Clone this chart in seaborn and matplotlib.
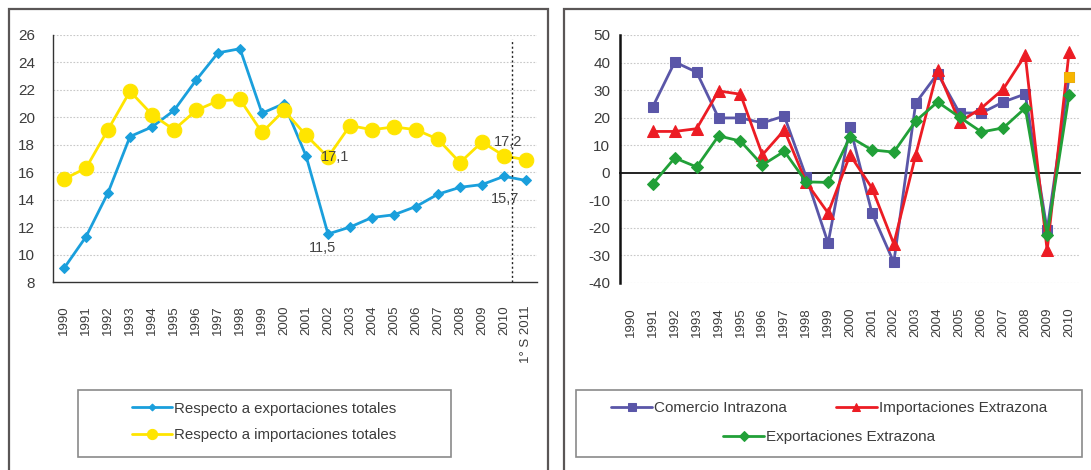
import numpy as np
import pandas as pd
import matplotlib
matplotlib.use("Agg")
import matplotlib.pyplot as plt
from matplotlib.patches import Rectangle
import seaborn as sns

# ---- data: share of intra-zone trade (left) ----
periods_left = [str(y) for y in range(1990, 2011)] + ["1° S 2011"]
export_share = [9.0, 11.3, 14.5, 18.6, 19.3, 20.5, 22.7, 24.7, 25.0, 20.3, 21.0,
                17.2, 11.5, 12.0, 12.7, 12.9, 13.5, 14.4, 14.9, 15.1, 15.7, 15.4]
import_share = [15.5, 16.3, 19.1, 21.9, 20.2, 19.1, 20.5, 21.2, 21.3, 18.9, 20.5,
                18.7, 17.1, 19.4, 19.1, 19.3, 19.1, 18.4, 16.7, 18.2, 17.2, 16.9]
# points carrying a value label: (series name, period)
labelled = [("import", "2002"), ("export", "2002"), ("export", "2010"), ("import", "2010")]

# ---- data: annual growth rates (right) ----
periods_right = [str(y) for y in range(1990, 2011)]
intrazona = [np.nan, 24.0, 40.2, 36.5, 19.9, 19.9, 18.1, 20.6, -1.5, -25.5, 16.6,
             -14.5, -32.5, 25.3, 36.0, 21.7, 21.7, 25.7, 28.6, -20.8, 34.8]
imp_extrazona = [np.nan, 15.0, 15.0, 16.0, 29.7, 28.5, 6.5, 15.5, -3.5, -14.6, 6.5,
                 -5.5, -25.8, 6.5, 37.3, 18.4, 23.5, 30.4, 42.7, -28.2, 43.8]
exp_extrazona = [np.nan, -4.0, 5.4, 2.1, 13.4, 11.5, 2.8, 7.8, -3.3, -3.5, 13.0,
                 8.3, 7.5, 18.8, 25.7, 20.2, 14.8, 16.3, 23.5, -22.6, 28.2]

BLUE = "#1a9fdc"
YELLOW = "#ffe500"
PURPLE = "#5a56a8"
RED = "#ec1c24"
GREEN = "#21a038"
ORANGE = "#f7b500"
TXT = "#3c3c3c"

sns.set_style("white")
plt.rcParams["font.family"] = ["Liberation Sans", "DejaVu Sans"]
plt.rcParams["text.color"] = TXT
plt.rcParams["axes.unicode_minus"] = False

W, H = 1091, 470
fig = plt.figure(figsize=(W / 100, H / 100), dpi=100)


def fbox(x0, y0, x1, y1):
    """pixel box (top-left origin) -> figure fraction rect"""
    return [x0 / W, 1 - y1 / H, (x1 - x0) / W, (y1 - y0) / H]


# panel frames
for x0, x1 in [(8.5, 547.5), (563.5, 1100)]:
    fig.patches.append(Rectangle((x0 / W, -0.1), (x1 - x0) / W, 1.1 - 9.5 / H,
                                 transform=fig.transFigure, fill=False,
                                 edgecolor="#5a5656", linewidth=1.6, zorder=0))

# ================= left chart =================
axL = fig.add_axes(fbox(53, 35, 537, 282))
xl = np.arange(len(periods_left))
dfL = pd.DataFrame({"x": xl, "export": export_share, "import": import_share})

sns.lineplot(data=dfL, x="x", y="export", ax=axL, color=BLUE, linewidth=2.0,
             marker="D", markersize=5, markeredgecolor=BLUE,
             label="Respecto a exportaciones totales", zorder=3)
sns.lineplot(data=dfL, x="x", y="import", ax=axL, color=YELLOW, linewidth=2.0,
             marker="o", markersize=10.5, markeredgecolor=YELLOW,
             label="Respecto a importaciones totales", zorder=4)
handlesL, labelsL = axL.get_legend_handles_labels()
axL.legend_.remove()

axL.set_xlim(-0.5, len(periods_left) - 0.5)
axL.set_ylim(8, 26)
axL.set_yticks(np.arange(8, 27, 2))
axL.set_xticks(xl)
axL.set_xticklabels(periods_left, rotation=90, fontsize=9.5, color=TXT, va="top")
axL.set_xticks(np.arange(-0.5, len(periods_left)), minor=True)
axL.tick_params(axis="x", which="major", length=0, pad=17)
axL.tick_params(axis="x", which="minor", length=4, width=1, color="#333333", direction="out")
axL.tick_params(axis="y", length=4, width=1, color="#333333", direction="out",
                labelsize=11, labelcolor=TXT, pad=9)
axL.set_xlabel("")
axL.set_ylabel("")
for s in ["top", "right"]:
    axL.spines[s].set_visible(False)
for s in ["left", "bottom"]:
    axL.spines[s].set_color("#333333")
    axL.spines[s].set_linewidth(1.0)
for v in np.arange(10, 27, 2):
    axL.axhline(v, color="#c8c8c8", linewidth=0.8, linestyle=(0, (1.5, 1.5)), zorder=1)

# marker of the start of the 2011 half-year data
axL.axvline(20.35, ymin=0, ymax=0.985, color="#222222", linewidth=1.0,
            linestyle=(0, (1.5, 1.8)), zorder=5)

series_map = {"export": export_share, "import": import_share}
offsets = {("import", "2002"): (5, 0), ("export", "2002"): (-4, -10),
           ("export", "2010"): (1, -16), ("import", "2010"): (3, 10)}
for name, per in labelled:
    i = periods_left.index(per)
    val = series_map[name][i]
    axL.annotate(f"{val:.1f}".replace(".", ","), xy=(i, val),
                 xytext=offsets[(name, per)], textcoords="offset points",
                 ha="center", va="center", fontsize=10.5, color="#444444", zorder=6)

# legend of left chart
fig.patches.append(Rectangle((77.5 / W, 1 - 456.5 / H), (451 - 77.5) / W, (456.5 - 390) / H,
                             transform=fig.transFigure, fill=False,
                             edgecolor="#8a8a8a", linewidth=1.2, zorder=1))
fig.legend(handlesL, labelsL, loc="center", bbox_to_anchor=(264 / W, 1 - 422 / H),
           frameon=False, fontsize=10.8, handlelength=2.7, handletextpad=0.1,
           labelspacing=0.85, labelcolor=TXT, markerscale=0.7)

# ================= right chart =================
axR = fig.add_axes(fbox(620, 35, 1080, 283))
xr = np.arange(len(periods_right))
dfR = pd.DataFrame({"x": xr, "intra": intrazona, "imp": imp_extrazona, "exp": exp_extrazona})

sns.lineplot(data=dfR, x="x", y="intra", ax=axR, color=PURPLE, linewidth=2.0,
             marker="s", markersize=7, markeredgecolor=PURPLE,
             label="Comercio Intrazona", zorder=3)
sns.lineplot(data=dfR, x="x", y="imp", ax=axR, color=RED, linewidth=2.0,
             marker="^", markersize=8, markeredgecolor=RED,
             label="Importaciones Extrazona", zorder=4)
sns.lineplot(data=dfR, x="x", y="exp", ax=axR, color=GREEN, linewidth=2.0,
             marker="D", markersize=6, markeredgecolor=GREEN,
             label="Exportaciones Extrazona", zorder=5)
# latest intra-zone point highlighted
last = len(periods_right) - 1
sns.scatterplot(x=[xr[last]], y=[intrazona[last]], ax=axR, marker="s", s=60,
                color=ORANGE, edgecolor=ORANGE, zorder=6, legend=False)
handlesR, labelsR = axR.get_legend_handles_labels()
axR.legend_.remove()

# the category axis sits on the zero line
axR.spines["bottom"].set_position(("data", 0))
axR.spines["bottom"].set_color("#111111")
axR.spines["bottom"].set_linewidth(1.3)
axR.set_xlim(-0.5, len(periods_right) - 0.5)
axR.set_ylim(-40, 50)
axR.set_yticks(np.arange(-40, 51, 10))
axR.set_xticks(xr)
axR.set_xticklabels(periods_right, rotation=90, fontsize=9.5, color=TXT, va="top")
axR.set_xticks(np.arange(-0.5, len(periods_right)), minor=True)
axR.tick_params(axis="x", which="major", length=0, pad=97)
axR.tick_params(axis="x", which="minor", length=3, width=1, color="#333333", direction="out")
axR.tick_params(axis="y", length=4, width=1.2, color="#111111", direction="out",
                labelsize=11, labelcolor=TXT, pad=3)
plt.setp(axR.get_xticklabels(), rotation=90, va="top", ha="center")
axR.set_xlabel("")
axR.set_ylabel("")
for s in ["top", "right"]:
    axR.spines[s].set_visible(False)
axR.spines["left"].set_color("#111111")
axR.spines["left"].set_linewidth(1.8)
for v in np.arange(-40, 51, 10):
    if v != 0:
        axR.axhline(v, color="#c8c8c8", linewidth=0.8, linestyle=(0, (1.5, 1.5)), zorder=1)

# legend of right chart (two centred rows)
fig.patches.append(Rectangle((575.5 / W, 1 - 456.5 / H), (1082 - 575.5) / W, (456.5 - 389.5) / H,
                             transform=fig.transFigure, fill=False,
                             edgecolor="#8a8a8a", linewidth=1.2, zorder=1))
fig.legend(handlesR[:2], labelsR[:2], loc="center", ncol=2,
           bbox_to_anchor=(829 / W, 1 - 408 / H), frameon=False, fontsize=11,
           handlelength=2.7, handletextpad=0.1, columnspacing=3.2, labelcolor=TXT,
           markerscale=0.8)
fig.legend(handlesR[2:], labelsR[2:], loc="center",
           bbox_to_anchor=(829 / W, 1 - 437 / H), frameon=False, fontsize=11,
           handlelength=2.7, handletextpad=0.1, labelcolor=TXT, markerscale=0.8)

fig.savefig("out.png", dpi=100)
